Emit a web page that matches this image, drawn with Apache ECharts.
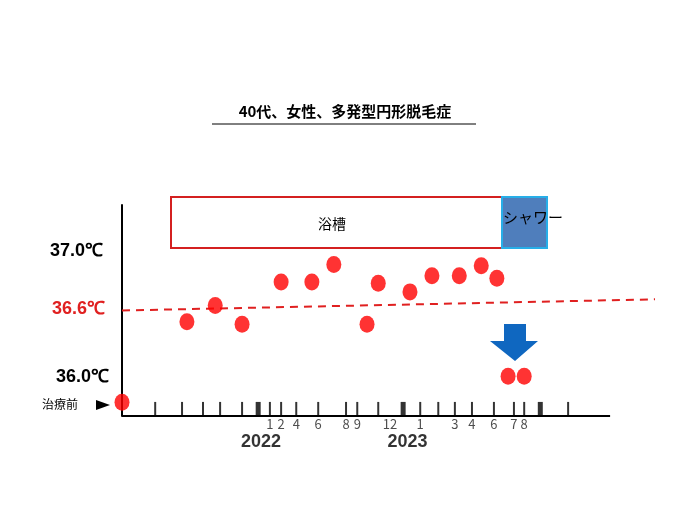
<!DOCTYPE html><html><head><meta charset="utf-8"><script src="https://cdn.jsdelivr.net/npm/echarts@6/dist/echarts.min.js"></script></head><body style="margin:0;background:#fff"><div id="c" style="width:690px;height:518px"></div><script>
const pointX=[0,13.3,19.1,24.6,32.6,38.9,43.4,50.2,52.5,59.0,63.5,69.1,73.6,76.8,79.1,82.4];
const pointY=[35.81,36.46,36.59,36.44,36.78,36.78,36.92,36.44,36.77,36.70,36.83,36.83,36.91,36.81,36.02,36.02];
const tickX=[6.8,12.3,16.6,20.1,24.6,27.9,30.3,32.6,35.7,40.2,45.9,48.2,52.5,57.6,61.1,64.8,68.2,71.7,76.2,80.3,82.4,85.7,91.4];
const boldTicks=[27.9,57.6,85.7];
const monthLabels=['1','2','4','6','8','9','12','1','3','4','6','7','8'];
const monthX=[30.3,32.6,35.7,40.2,45.9,48.2,54.9,61.1,68.2,71.7,76.2,80.3,82.4];
const years=['2022','2023'];const yearX=[28.5,58.5];
const F='"Noto Sans CJK JP",sans-serif';
const ch=echarts.init(document.getElementById('c'));
ch.setOption({animation:false,
grid:{left:122,right:35,top:205,bottom:102},
xAxis:{type:'value',min:0,max:109.2,show:false},
yAxis:{type:'value',min:35.7,max:37.4,axisLine:{show:true,onZero:false,lineStyle:{color:'#000',width:2}},axisLabel:{show:false},axisTick:{show:false},splitLine:{show:false}},
series:[
{type:'scatter',data:tickX.filter(v=>!boldTicks.includes(v)).map(v=>[v,35.757]),symbol:'rect',symbolSize:[2,14],itemStyle:{color:'#000'},silent:true},
{type:'scatter',data:boldTicks.map(v=>[v,35.757]),symbol:'rect',symbolSize:[5,14],itemStyle:{color:'#000'},silent:true},
{type:'scatter',data:monthX.map((v,i)=>({value:[v,35.7],label:{formatter:monthLabels[i]}})),symbolSize:0,label:{show:true,position:'bottom',distance:2,color:'#222',fontSize:13,fontFamily:F}},
{type:'scatter',data:yearX.map((v,i)=>({value:[v,35.7],label:{formatter:years[i]}})),symbolSize:0,label:{show:true,position:'bottom',distance:17,color:'#000',fontSize:18,fontWeight:'bold',fontFamily:'Arial'}},
{type:'line',data:[],markLine:{silent:true,symbol:'none',label:{show:false},data:[
[{coord:[0,35.7],lineStyle:{color:'#000',width:2,type:'solid'}},{coord:[100,35.7]}],
[{coord:[0,36.55],lineStyle:{color:'#e02020',width:2,type:[8,6]}},{coord:[109.2,36.64]}]]}},
{type:'scatter',data:pointX.map((v,i)=>[v,pointY[i]]),symbol:'circle',symbolSize:[15,17],itemStyle:{color:'#ff0000'},z:5}
],
graphic:[
{type:'text',left:'center',top:104,style:{text:'40代、女性、多発型円形脱毛症',font:'bold 15px '+F,fill:'#000'}},
{type:'line',shape:{x1:212,y1:124,x2:476,y2:124},style:{stroke:'#000',lineWidth:1}},
{type:'rect',shape:{x:171,y:197,width:331,height:51},style:{fill:'#fff',stroke:'#d42020',lineWidth:2}},
{type:'rect',shape:{x:502,y:197,width:45,height:51},style:{fill:'#4f7ebc',stroke:'#27aee8',lineWidth:2}},
{type:'text',x:318,y:217,style:{text:'浴槽',font:'14px '+F,fill:'#000'}},
{type:'text',x:503,y:210,style:{text:'シャワー',font:'15px '+F,fill:'#000'}},
{type:'text',x:50,y:242,style:{text:'37.0℃',font:'bold 18px Arial',fill:'#000'}},
{type:'text',x:52,y:300,style:{text:'36.6℃',font:'bold 18px Arial',fill:'#e02020'}},
{type:'text',x:56,y:368,style:{text:'36.0℃',font:'bold 18px Arial',fill:'#000'}},
{type:'text',x:42,y:398,style:{text:'治療前',font:'12px '+F,fill:'#000'}},
{type:'polygon',shape:{points:[[96,400],[110,405],[96,410]]},style:{fill:'#000'}},
{type:'polygon',shape:{points:[[504,324],[526,324],[526,341],[538,341],[515,361],[490,341],[504,341]]},style:{fill:'#0f67c0'}}
]});
</script></body></html>
